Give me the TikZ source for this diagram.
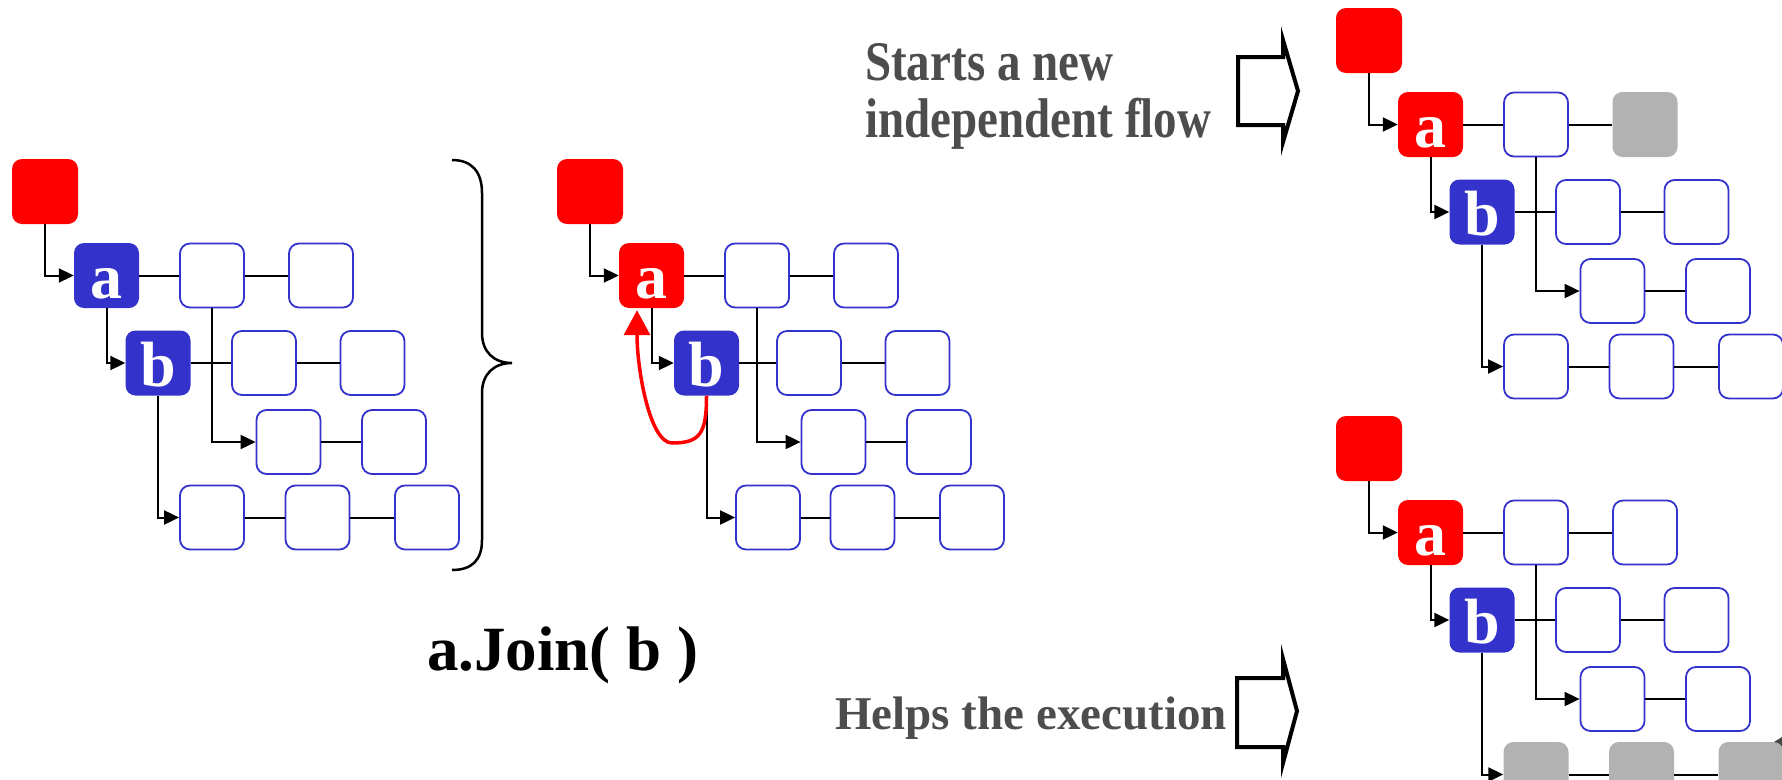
\documentclass[tikz,border=0pt]{standalone}
\usepackage{fontspec}
\setmainfont{Liberation Serif}
\usetikzlibrary{arrows.meta}

\definecolor{flowblue}{RGB}{51,51,204}
\definecolor{flowred}{RGB}{255,0,0}
\definecolor{flowgray}{RGB}{178,178,178}
\definecolor{notegray}{RGB}{77,77,77}

\tikzset{
  flowbox/.style={rounded corners=10pt, minimum width=64pt, minimum height=64pt, inner sep=0pt},
  taskbox/.style={flowbox, draw=flowblue, line width=1.8pt, fill=white},
  rootbox/.style={flowbox, fill=flowred, minimum width=66pt, minimum height=65pt},
  donebox/.style={flowbox, fill=flowgray, minimum width=65pt, minimum height=65pt},
  bluelabel/.style={flowbox, fill=flowblue, minimum width=65pt, minimum height=65pt,
    text=white, font=\fontsize{64}{64}\selectfont\bfseries, text height=46pt, text depth=0pt},
  redlabel/.style={bluelabel, fill=flowred},
  link/.style={line width=2pt, draw=black},
  spawn/.style={link, -{Triangle[length=15pt,width=14pt]}},
  joinarrow/.style={draw=flowred, line width=3.5pt, -{Triangle[length=25pt,width=26pt]}},
  blockarrow/.style={draw=black, line width=4pt, fill=white, line join=miter},
  brace/.style={draw=black, line width=2.5pt},
  note/.style={inner sep=0pt, text=notegray, font=\fontsize{47}{48}\selectfont\bfseries},
}

% One task graph: #1 name prefix, #2 shift, #3 style of a, #4 style of the
% last box in a's row, #5 style of b's spawned row, #6 x of b, #7 x of b's first child
\newcommand\flowgraph[7]{%
\begin{scope}[shift={#2}, name prefix=#1-]
  \node[rootbox] (root) at (45,191.5) {};
  \node[#3] (a) at (106.5,275.5) {a};
  \node[taskbox] (a1) at (212,275.5) {};
  \node[#4] (a2) at (321,275.5) {};
  \node[bluelabel] (b) at (#6,363) {b};
  \node[taskbox] (b1) at (264,363) {};
  \node[taskbox] (b2) at (372.5,363) {};
  \node[taskbox] (c1) at (288.5,442) {};
  \node[taskbox] (c2) at (394,442) {};
  \node[#5] (d1) at (#7,517.5) {};
  \node[#5] (d2) at (317.5,517.5) {};
  \node[#5] (d3) at (427,517.5) {};
  \draw[spawn] (root) |- (a);
  \draw[spawn] (a) |- (b);
  \draw[spawn] (a1) |- (c1);
  \draw[spawn] (b) |- (d1);
  \draw[link] (a) -- (a1) (a1) -- (a2);
  \draw[link] (b) -- (b1) (b1) -- (b2);
  \draw[link] (c1) -- (c2);
  \draw[link] (d1) -- (d2) (d2) -- (d3);
\end{scope}}

\begin{document}
\begin{tikzpicture}[x=1pt, y=-1pt]
  \useasboundingbox (0,0) rectangle (1782,779);

  % before the join
  \flowgraph{g1}{(0,0)}{bluelabel}{taskbox}{taskbox}{158}{212}

  % curly brace
  \draw[brace] (452,160) .. controls (472,160) and (482,172) .. (482,193)
    -- (482,333) .. controls (482,352) and (494,363) .. (512,363)
    .. controls (494,363) and (482,374) .. (482,393)
    -- (482,540) .. controls (482,560) and (472,570) .. (452,570);

  % during the join
  \flowgraph{g2}{(545,0)}{redlabel}{taskbox}{taskbox}{161.5}{223}
  \coordinate (g2-loop) at (672,443);
  \draw[joinarrow] (g2-b.south) .. controls +(0,38) and +(28,0) .. (g2-loop)
    .. controls +(-22,0) and +(0,60) .. ([xshift=-14.5pt,yshift=-2pt]g2-a.south);

  \node[anchor=base west, inner sep=0pt, font=\fontsize{63}{63}\selectfont\bfseries]
    (joincall) at (427,670) {a.Join( b )};

  % outcomes
  \node[note, anchor=base west] (newflow) at (865,80)
    {\scalebox{1}[1.19]{\begin{tabular}[t]{@{}l@{}}Starts a new\\independent flow\end{tabular}}};
  \draw[blockarrow] (1238,57) -- (1283,57) -- (1283,40) -- (1298,91)
    -- (1283,142) -- (1283,125) -- (1238,125) -- cycle;

  \node[note, anchor=base west] (helps) at (835,729) {Helps the execution};
  \draw[blockarrow] (1237,678) -- (1283,678) -- (1283,659) -- (1297,711)
    -- (1283,763) -- (1283,747) -- (1237,747) -- cycle;

  \flowgraph{g3}{(1324,-151)}{redlabel}{donebox}{taskbox}{158}{212}

  \fill[gray!55!black] (1774,742) -- (1782,737) -- (1782,750) -- cycle;
  \flowgraph{g4}{(1324,257)}{redlabel}{taskbox}{donebox}{158}{212}
\end{tikzpicture}
\end{document}
